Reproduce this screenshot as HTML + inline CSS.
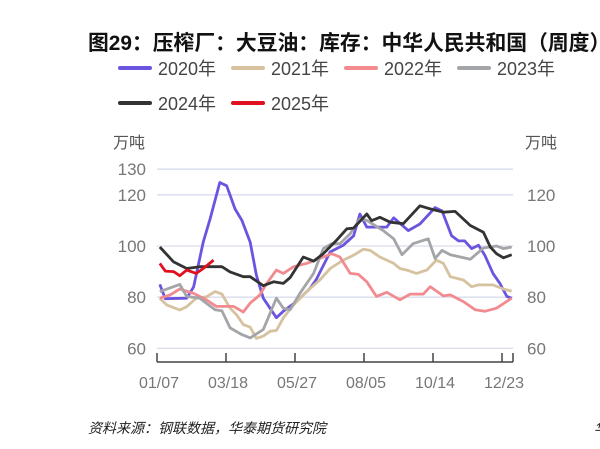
<!DOCTYPE html>
<html><head><meta charset="utf-8"><style>
body{margin:0;width:600px;height:449px;background:#fff;overflow:hidden;font-family:"Liberation Sans","Noto Sans CJK SC",sans-serif;}
svg{position:absolute;left:0;top:0}
</style></head><body>
<svg width="600" height="449">
<text x="88" y="50" font-size="20.8" font-weight="bold" fill="#111" font-family="Liberation Sans, Noto Sans CJK SC, sans-serif">图29：压榨厂：大豆油：库存：中华人民共和国（周度）图</text>
<g id="legend"></g>
<g id="grid"></g>
<g id="series"></g>
<text x="113" y="148" font-size="16" fill="#555">万吨</text>
<text x="525" y="148" font-size="16" fill="#555">万吨</text>
<text x="88" y="433" font-size="14" font-style="italic" fill="#222">资料来源：钢联数据，华泰期货研究院</text>
<text x="594" y="433" font-size="14" font-style="italic" fill="#222">华</text>
</svg>
<script>
const leftTicks=[60,80,100,120,130];
const rightTicks=[60,80,100,120];
const xTickWeeks=[0,10,20,30,40,50];
const xTickLabels=["01/07","03/18","05/27","08/05","10/14","12/23"];
const seriesNames=["2020年","2021年","2022年","2023年","2024年","2025年"];
const seriesColors=["#6b55e0","#d6c29e","#f28b8f","#a3a5a8","#333333","#e0101e"];
const w2020=[0.4,1.2,4.3,5.3,6.7,7.7,9.1,10.1,11.3,12.3,13.5,14.4,15.4,17.3,18.3,20.2,22.2,23.1,25.1,27,28.5,29.4,30.4,33.3,34.3,36.4,38.1,40.3,41.3,42.7,43.7,44.6,45.6,46.6,47.5,48.7,49.7,50.7,51.4];
const v2020=[85,79.4,79.6,84,101.5,110.6,124.8,123.5,114.5,110,101.5,88.6,79.6,72,74.5,78.3,83.5,87,97.7,100.3,104,112.5,107.4,107.4,111,106,108.6,115,113.7,104,102,102,99,100.3,96.4,89.3,85.4,80.3,79.6];
const w2021=[0.4,1.4,3.3,4.3,5.7,7.2,8.4,9.4,10.6,11.5,12.5,13.5,14.4,15.4,16.4,17.3,18.3,19.8,21.7,23.6,25.1,27,28.5,29.9,30.9,32.3,34.3,35.2,36.2,37.6,39.1,40.5,41.5,42.5,44.4,45.6,46.6,48.7,50.2,51.4];
const v2021=[79.6,77,75,76.3,79.6,80.2,82.2,81.2,75.7,73.2,69.3,68.3,63.9,64.8,66.7,67,71.9,77,82.2,86.7,91.2,94.5,96.4,98.7,98.3,95.7,93.2,91.2,90.6,89.3,90.6,94.5,93.2,88,86.7,84.1,84.8,84.8,83.2,82.4];
const w2022=[0.4,1.9,3.3,5.3,7.2,8.6,11.1,12.5,13.5,14.9,15.9,17.3,18.3,19.8,21.7,23.6,25.3,26.5,28,29.2,30.4,31.8,33.3,35.2,36.7,38.6,39.6,41.5,42.5,44.4,46.1,47.5,49.2,51.4];
const v2022=[79.6,80.9,83.2,81.5,78.9,76.4,76.4,74.2,77.7,80.9,85.4,90.6,89.3,91.9,93.2,95.1,97,95.7,89.3,88.9,86,80.3,81.9,79,81.2,81.2,84.1,80.5,80.9,78.3,75.1,74.5,75.7,79.6];
const w2023=[0.4,3.3,4.3,6.2,8.4,9.4,10.6,12.3,13.5,15.4,17.3,18.3,19.3,20.7,22.7,24.1,25.3,26.5,28,29.4,30.4,32.8,34.3,35.5,37.1,39.3,40.3,41.3,42.5,45.4,47.3,49.2,50.2,51.4];
const v2023=[82.2,85,80.3,79.6,75.1,74.7,68,65.4,64.1,67.4,79.6,75.7,75.1,81.5,89.3,99,100.9,100.9,104.8,110.6,110,106,102.8,96.6,100.9,102.8,95.1,98.3,96.6,94.8,99.2,100,99,99.6];
const w2024=[0.4,2.4,4.3,6.2,9.4,10.6,12.5,13.5,15.4,16.9,18.3,19.3,21.2,22.7,24.1,26,27.5,28.5,30.4,31.1,32.3,33.8,35.7,38.1,39.6,41.5,43.2,45.4,47.3,48.3,49.2,50.2,51.4];
const v2024=[99.6,93.8,91.2,91.9,91.9,89.9,88,88,84.5,86,85.4,87.7,95.7,94.1,97,102.2,106.7,107,112.5,109.9,111.2,109.3,108.7,115.7,114.5,113.2,113.5,108,105.4,99.6,97,95.4,96.6];
const w2025=[0.4,1.2,2.4,3.3,4.3,5.7,6.7,8.2];
const v2025=[93.2,90.2,90,88.4,90.6,89.3,91.2,94.5];
const allW=[w2020,w2021,w2022,w2023,w2024,w2025];
const allV=[v2020,v2021,v2022,v2023,v2024,v2025];

const NS="http://www.w3.org/2000/svg";
const xS=w=>157+w*6.9;
const yS=v=>246-(v-100)*2.56;
function mk(tag,attrs,parent,text){const e=document.createElementNS(NS,tag);for(const k in attrs)e.setAttribute(k,attrs[k]);if(text!==undefined)e.textContent=text;parent.appendChild(e);return e;}
const grid=document.getElementById('grid');
leftTicks.forEach(t=>{
  const l=mk('line',{x1:157,x2:513,y1:yS(t),y2:yS(t),stroke:'#dadcee','stroke-width':1.3},grid);
  
  
  const tx=mk('text',{x:146,y:yS(t)+6,'text-anchor':'end','font-size':17,fill:'#777'},grid,t);
  
  
});
rightTicks.forEach(t=>{
  const tx=mk('text',{x:527,y:yS(t)+6,'font-size':17,fill:'#777'},grid,t);
  
  
});
const ax=mk('line',{x1:157,x2:513,y1:362,y2:362,stroke:'#444','stroke-width':1.5},grid);


[...xTickWeeks.map(xS),513].forEach(x=>{const t=mk('line',{x1:x,x2:x,y1:353,y2:362,stroke:'#444','stroke-width':1.5},grid);
  
  });
xTickWeeks.forEach((w,i)=>{
  const tx=mk('text',{x:xS(w)+2,y:388,'text-anchor':'middle','font-size':16,fill:'#777'},grid,xTickLabels[i]);
  
  
});
const sg=document.getElementById('series');
allW.forEach((ws,i)=>{
  const d=ws.map((w,j)=>(j?'L':'M')+xS(w).toFixed(1)+' '+yS(allV[i][j]).toFixed(1)).join(' ');
  const p=mk('path',{d:d,fill:'none',stroke:seriesColors[i],'stroke-width':2.8,'stroke-linejoin':'round'},sg);
  
  
});
const lg=document.getElementById('legend');
const lpos=[[120,68],[233,68],[346,68],[459,68],[120,103],[233,103]];
seriesNames.forEach((n,i)=>{
  const [x,y]=lpos[i];
  const g=mk('g',{},lg);
  
  
  mk('line',{x1:x,x2:x+30,y1:y,y2:y,stroke:seriesColors[i],'stroke-width':4,'stroke-linecap':'round'},g);
  mk('text',{x:x+38,y:y+7,'font-size':18,fill:'#444'},g,n);
});
</script>
</body></html>
